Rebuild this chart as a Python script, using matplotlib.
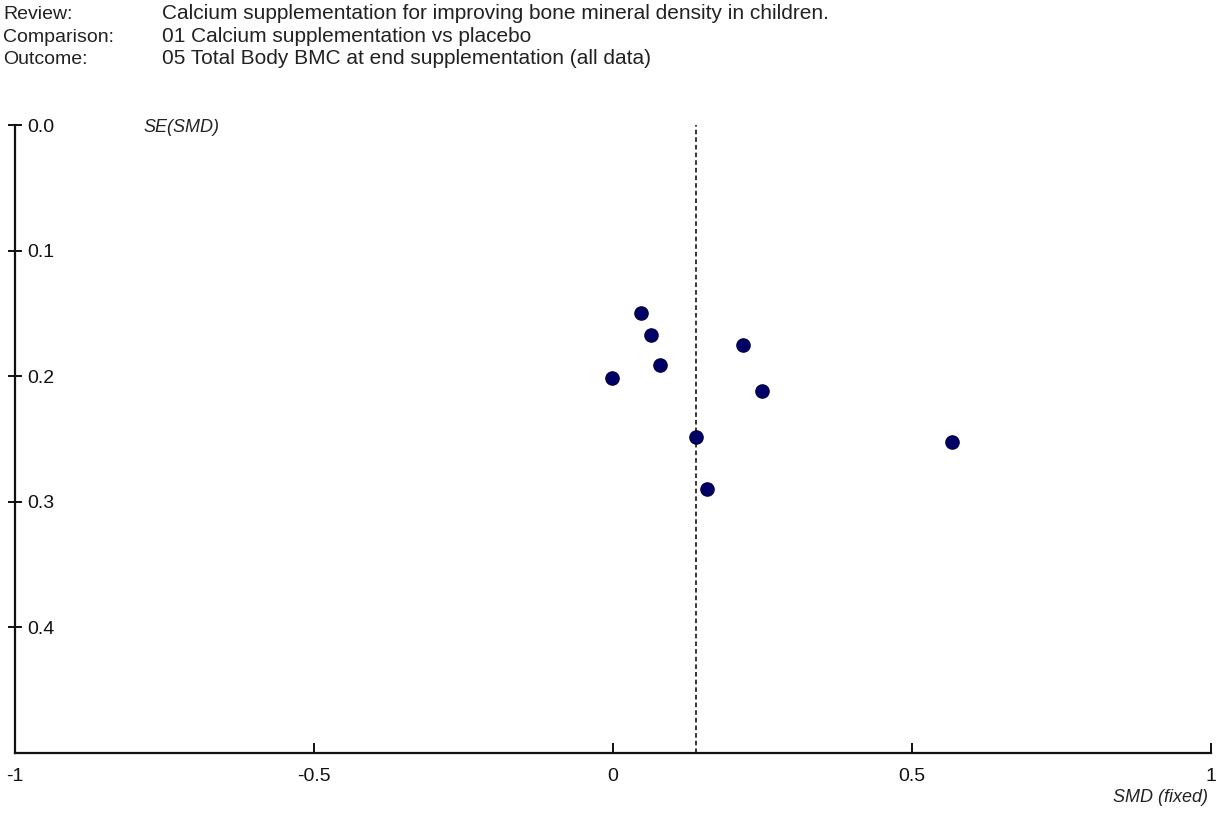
import matplotlib
matplotlib.use("Agg")
import matplotlib.pyplot as plt

# Data
smd = [0.046, 0.064, 0.078, -0.001, 0.217, 0.249, 0.139, 0.157, 0.567]
se = [0.150, 0.167, 0.1915, 0.2015, 0.1755, 0.2115, 0.2488, 0.290, 0.2528]
pooled = 0.139
x_ticks = [-1, -0.5, 0, 0.5, 1]
x_tick_labels = ["-1", "-0.5", "0", "0.5", "1"]
y_ticks = [0.0, 0.1, 0.2, 0.3, 0.4]
y_tick_labels = ["0.0", "0.1", "0.2", "0.3", "0.4"]
header_keys = ["Review:", "Comparison:", "Outcome:"]
header_vals = ["Calcium supplementation for improving bone mineral density in children.",
               "01 Calcium supplementation vs placebo",
               "05 Total Body BMC at end supplementation (all data)"]

plt.rcParams['font.family'] = ['Liberation Sans', 'DejaVu Sans']

W, H = 1221, 819
fig = plt.figure(figsize=(W / 100, H / 100), dpi=100)
fig.patch.set_facecolor('white')

x_left, x_right = 15, 1211
y_top, y_bot = 125, 752.7
ax = fig.add_axes([x_left / W, 1 - y_bot / H, (x_right - x_left) / W, (y_bot - y_top) / H])
ax.set_xlim(-1, 1)
ax.set_ylim(0.5, 0.0)
ax.patch.set_alpha(0)

for s in ['top', 'right']:
    ax.spines[s].set_visible(False)
for s in ['left', 'bottom']:
    ax.spines[s].set_linewidth(1.6)
    ax.spines[s].set_color('#111111')

ax.axvline(pooled, color='black', linestyle=(0, (3, 2)), linewidth=1.1)
ax.plot(smd, se, linestyle='none', marker='o', markersize=9.5,
        markerfacecolor='#000066', markeredgecolor='#000044', clip_on=False, zorder=5)

ax.set_xticks(x_ticks)
ax.set_xticklabels(x_tick_labels)
ax.set_yticks(y_ticks)
ax.set_yticklabels(y_tick_labels)
ax.tick_params(axis='x', direction='in', length=7, width=1.4, pad=11, labelsize=14, colors='#111111')
ax.tick_params(axis='y', direction='inout', length=10, width=1.4, pad=-13.5, labelsize=14, colors='#111111')
for lbl in ax.get_yticklabels():
    lbl.set_horizontalalignment('left')

# header text
rows_base = [19, 42, 64]
for k, v, yy in zip(header_keys, header_vals, rows_base):
    fig.text(3 / W, 1 - yy / H, k, ha='left', va='baseline', fontsize=14, color='#222222')
    fig.text(162 / W, 1 - yy / H, v, ha='left', va='baseline', fontsize=15, color='#222222')

fig.text(143 / W, 1 - 127 / H, "SE(SMD)", ha='left', va='center', fontsize=13,
         style='italic', color='#222222')
fig.text(1208 / W, 1 - 797 / H, "SMD (fixed)", ha='right', va='center', fontsize=13,
         style='italic', color='#222222')

fig.savefig("out.png", dpi=100, facecolor='white')
